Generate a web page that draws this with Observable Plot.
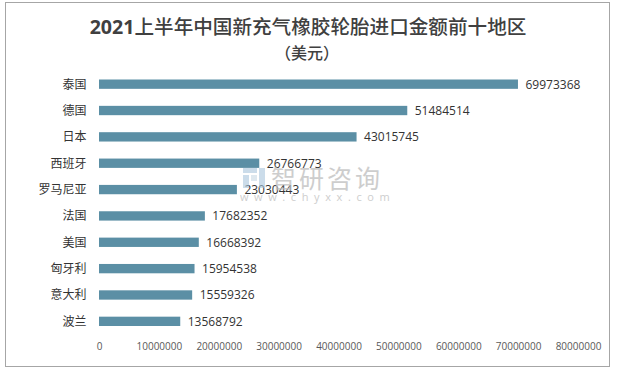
<!DOCTYPE html>
<html>
<head>
<meta charset="utf-8">
<script src="https://cdn.jsdelivr.net/npm/d3@7"></script>
<script src="https://cdn.jsdelivr.net/npm/@observablehq/plot@0.6"></script>
<style>
  html, body { margin: 0; padding: 0; background: #fff; }
  #wrap { position: relative; width: 620px; height: 371px; overflow: hidden; font-family: "Noto Sans CJK SC", "Open Sans", sans-serif; }
  #frame { position: absolute; left: 5px; top: 2px; width: 605px; height: 365px; border: 1px solid #a6a6a6; box-sizing: border-box; pointer-events: none; }
  #title { position: absolute; left: 0; top: 13px; width: 616px; text-align: center; font-size: 19.6px; font-weight: 500; color: #404040; line-height: 26px; }
  #title b { font-family: "Open Sans", sans-serif; font-weight: bold; }
  #subtitle { position: absolute; left: 0; top: 39px; width: 614px; text-align: center; font-size: 16px; font-weight: 500; color: #404040; line-height: 26px; }
  #chart { position: absolute; left: 0; top: 68px; }
  #wm1 { position: absolute; left: 271px; top: 162px; font-size: 25px; letter-spacing: 3px; color: #bdbdbd; opacity: 0.75; line-height: 30px; }
  #wm2 { position: absolute; left: 240px; top: 190px; font-size: 11px; letter-spacing: 5.6px; color: #bdbdbd; opacity: 0.75; font-family: "Open Sans", sans-serif; line-height: 14px; }
  #logo { position: absolute; left: 242px; top: 167px; width: 24px; height: 22px; opacity: 0.6; }
</style>
</head>
<body>
<div id="wrap">
  <div id="title"><b>2021</b>上半年中国新充气橡胶轮胎进口金额前十地区</div>
  <div id="subtitle">（美元）</div>
  <div id="chart"></div>
  <svg id="logo" viewBox="0 0 24 22"><rect x="1" y="1" width="14" height="5" fill="#a9c6dd"/><rect x="1" y="8" width="6" height="13" fill="#a9c6dd"/><rect x="9" y="8" width="6" height="6" fill="#c9d9e6"/><rect x="17" y="1" width="6" height="20" fill="#a9c6dd"/></svg>
  <div id="wm1">智研咨询</div>
  <div id="wm2">www.chyxx.com</div>
  <div id="frame"></div>
</div>
<script>
const regions = ["泰国", "德国", "日本", "西班牙", "罗马尼亚", "法国", "美国", "匈牙利", "意大利", "波兰"];
const values = [69973368, 51484514, 43015745, 26766773, 23030443, 17682352, 16668392, 15954538, 15559326, 13568792];
const xTicks = [0, 10000000, 20000000, 30000000, 40000000, 50000000, 60000000, 70000000, 80000000];

const data = regions.map((r, i) => ({region: r, value: values[i]}));

const chart = Plot.plot({
  width: 620,
  height: 300,
  marginLeft: 99,
  marginRight: 42,
  marginTop: 8,
  marginBottom: 35,
  style: {fontFamily: "'Open Sans', 'Noto Sans CJK SC', sans-serif", background: "transparent", overflow: "visible"},
  x: {domain: [0, 80000000], ticks: xTicks, tickFormat: d => String(d), label: null},
  y: {domain: regions, range: [11.5, 258], paddingInner: 0.646, paddingOuter: 0, round: false, label: null},
  marks: [
    Plot.ruleX(xTicks, {y1: 8, y2: 265, stroke: "#d9d9d9", strokeWidth: 1}),
    Plot.barX(data, {x: "value", y: "region", fill: "#5b8fa5"}),
    Plot.text(data, {x: "value", y: "region", text: d => String(d.value), textAnchor: "start", dx: 7, fontSize: 12, fill: "#333"}),
    Plot.axisX({ticks: xTicks, tickFormat: d => String(d), tickSize: 0, tickPadding: 9, fontSize: 10, fill: "#595959", label: null}),
    Plot.axisY({tickSize: 0, tickPadding: 13, fontSize: 12, fill: "#333", fontFamily: "'Noto Sans CJK SC', sans-serif", label: null})
  ]
});
document.getElementById("chart").appendChild(chart);
</script>
</body>
</html>
